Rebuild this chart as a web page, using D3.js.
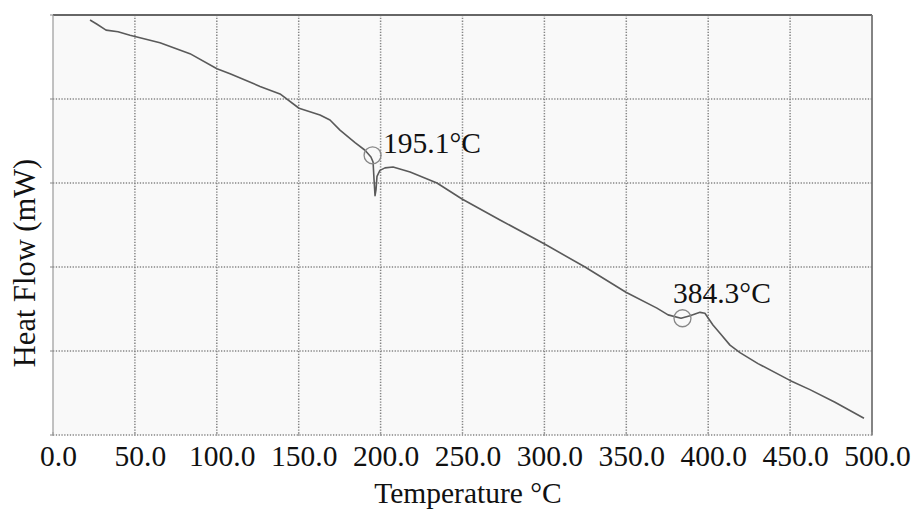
<!DOCTYPE html>
<html>
<head>
<meta charset="utf-8">
<script src="https://cdn.jsdelivr.net/npm/d3@7"></script>
<style>
  html, body { margin: 0; padding: 0; background: #fff; }
  svg { display: block; }
  text { font-family: "Liberation Serif", "Times New Roman", serif; fill: #111; }
</style>
</head>
<body>
<svg id="chart" width="920" height="510"></svg>
<script>
// ---- data ----
const temperature = [22.6, 26.9, 32.4, 39.7, 47.0, 65.3, 83.6, 100.1, 108.1, 126.4, 138.6, 150.2,
  163.0, 169.1, 175.2, 184.4, 190.5, 194.1, 195.4, 196.0, 196.6, 197.2, 197.8, 199.6, 202.7, 207.6,
  218.0, 234.4, 249.7, 272.9, 300.4, 324.8, 349.8, 368.7, 375.5, 383.4, 388.9, 395.0, 398.0, 402.9,
  407.2, 413.3, 419.4, 430.4, 449.9, 462.1, 477.4, 495.1];
const heatFlow = [4.94, 4.89, 4.82, 4.80, 4.76, 4.67, 4.54, 4.36, 4.30, 4.15, 4.06, 3.89,
  3.81, 3.75, 3.63, 3.48, 3.39, 3.31, 3.25, 3.04, 2.85, 2.92, 3.08, 3.15, 3.18, 3.19,
  3.13, 3.00, 2.81, 2.56, 2.27, 2.00, 1.70, 1.51, 1.43, 1.39, 1.42, 1.46, 1.45, 1.31,
  1.21, 1.07, 0.98, 0.85, 0.65, 0.54, 0.39, 0.20];
const xTicks = [0, 50, 100, 150, 200, 250, 300, 350, 400, 450, 500];
const yGrid = [0, 1, 2, 3, 4, 5];
const peakTemps = [195.1, 384.3];
const peakValues = [3.33, 1.39];
const peakLabels = ["195.1°C", "384.3°C"];
const xTitle = "Temperature °C";
const yTitle = "Heat Flow (mW)";

// ---- layout ----
const L = 53, R = 872, T = 15, B = 435;
const svg = d3.select("#chart");
const x = d3.scaleLinear().domain([0, 500]).range([L, R]);
const y = d3.scaleLinear().domain([0, 5]).range([B, T]);

// plot background
svg.append("rect").attr("x", L).attr("y", T).attr("width", R - L).attr("height", B - T)
  .attr("fill", "#f9f9f9");

// grid
const dash = "1.3,1.5";
svg.append("g").selectAll("line").data(xTicks.slice(1, -1)).join("line")
  .attr("x1", d => x(d)).attr("x2", d => x(d)).attr("y1", T).attr("y2", B)
  .attr("stroke", "#858585").attr("stroke-width", 1.5).attr("stroke-dasharray", dash);
svg.append("g").selectAll("line").data(yGrid.slice(0, -1)).join("line")
  .attr("x1", L).attr("x2", R).attr("y1", d => y(d)).attr("y2", d => y(d))
  .attr("stroke", "#858585").attr("stroke-width", 1.5).attr("stroke-dasharray", dash);

// frame
svg.append("line").attr("x1", L).attr("x2", R).attr("y1", T).attr("y2", T)
  .attr("stroke", "#666").attr("stroke-width", 2);
svg.append("line").attr("x1", R).attr("x2", R).attr("y1", T).attr("y2", B)
  .attr("stroke", "#777").attr("stroke-width", 1.8);
svg.append("line").attr("x1", L).attr("x2", L).attr("y1", T).attr("y2", B)
  .attr("stroke", "#999").attr("stroke-width", 1.2);

// small ticks on left axis
svg.append("g").selectAll("line").data(yGrid).join("line")
  .attr("x1", L - 3).attr("x2", L).attr("y1", d => y(d)).attr("y2", d => y(d))
  .attr("stroke", "#888").attr("stroke-width", 1);
// small ticks on bottom axis
svg.append("g").selectAll("line").data(xTicks).join("line")
  .attr("x1", d => x(d)).attr("x2", d => x(d)).attr("y1", B - 3).attr("y2", B + 1)
  .attr("stroke", "#999").attr("stroke-width", 1);

// x tick labels via d3 axis
const xAxis = d3.axisBottom(x).tickValues(xTicks).tickFormat(d3.format(".1f")).tickSize(0).tickPadding(0);
const gx = svg.append("g").attr("transform", `translate(0,${B})`).call(xAxis);
gx.select(".domain").remove();
gx.selectAll("text").attr("font-size", 29.5).attr("dy", null).attr("y", 31).attr("dx", 5)
  .attr("fill", "#111").style("font-family", "'Liberation Serif', 'Times New Roman', serif");

// curve
const pts = temperature.map((t, i) => [t, heatFlow[i]]);
const line = d3.line().x(d => x(d[0])).y(d => y(d[1]));
svg.append("path").datum(pts).attr("d", line)
  .attr("fill", "none").attr("stroke", "#5a5a5a").attr("stroke-width", 1.6)
  .attr("stroke-linejoin", "round");

// peak markers
const peaks = peakTemps.map((t, i) => ({ t, v: peakValues[i], label: peakLabels[i] }));
svg.append("g").selectAll("circle").data(peaks).join("circle")
  .attr("cx", d => x(d.t)).attr("cy", d => y(d.v)).attr("r", 8.5)
  .attr("fill", "none").attr("stroke", "#888").attr("stroke-width", 1.3);
svg.append("g").selectAll("text").data(peaks).join("text")
  .attr("x", (d, i) => x(d.t) + (i === 0 ? 10.5 : -9.5))
  .attr("y", (d, i) => y(d.v) + (i === 0 ? -2 : -15))
  .attr("font-size", 29.5).text(d => d.label);

// axis titles
svg.append("text").attr("x", 468).attr("y", 503).attr("text-anchor", "middle")
  .attr("font-size", 29.5).text(xTitle);
svg.append("text").attr("transform", "translate(35,263) rotate(-90)").attr("text-anchor", "middle")
  .attr("font-size", 30.5).text(yTitle);
</script>
</body>
</html>
